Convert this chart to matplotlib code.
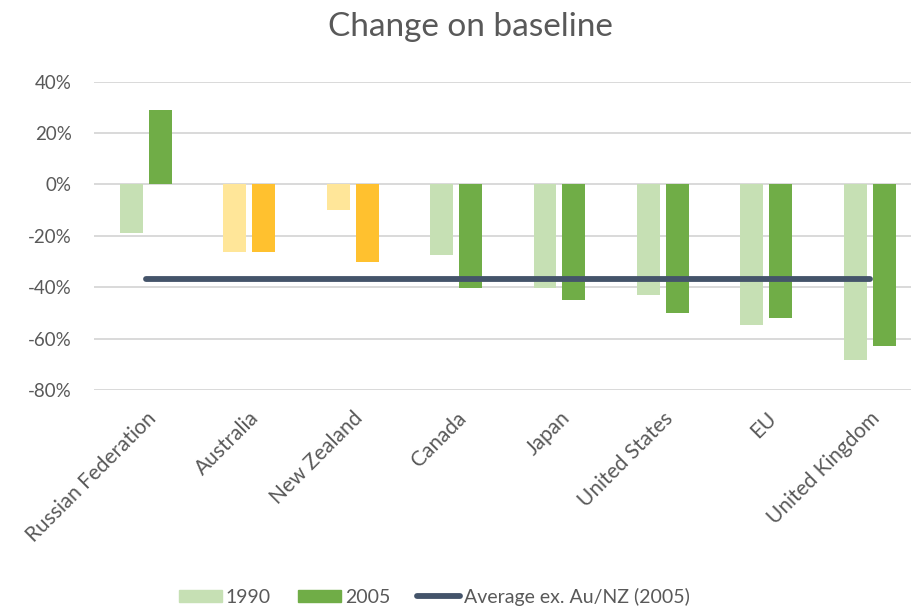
import matplotlib
matplotlib.use("Agg")
import matplotlib.pyplot as plt
import numpy as np
from matplotlib.patches import Patch
from matplotlib.lines import Line2D

plt.rcParams['font.family'] = ['Lato', 'DejaVu Sans']

categories = ["Russian Federation", "Australia", "New Zealand", "Canada",
              "Japan", "United States", "EU", "United Kingdom"]
change_1990 = [-19.0, -26.4, -9.8, -27.4, -40.4, -43.0, -54.8, -68.3]
change_2005 = [29.0, -26.4, -30.0, -40.4, -45.0, -50.2, -51.8, -62.9]
highlight = ["Australia", "New Zealand"]
y_ticks = [40, 20, 0, -20, -40, -60, -80]

green_light, green_dark = "#C6E0B4", "#70AD47"
gold_light, gold_dark = "#FFE699", "#FFC12F"
line_col = "#44546A"
text_col = "#595959"

fig = plt.figure(figsize=(9.11, 6.09), dpi=100)
ax = fig.add_axes([94 / 911, (609 - 390) / 609, (911 - 94) / 911, (390 - 81.7) / 609])

x = np.arange(len(categories))
off, w = 0.14, 0.222
c90 = [gold_light if c in highlight else green_light for c in categories]
c05 = [gold_dark if c in highlight else green_dark for c in categories]
ax.bar(x - off, change_1990, width=w, color=c90, zorder=2)
ax.bar(x + off, change_2005, width=w, color=c05, zorder=2)

# Average of 2005 values excluding Australia and New Zealand
avg = np.mean([v for c, v in zip(categories, change_2005) if c not in highlight])
ax.plot([x[0], x[-1]], [avg, avg], color=line_col, lw=4.2,
        solid_capstyle="round", zorder=3)

ax.set_xlim(-0.5, (911 - 146) / 103.4)
ax.set_ylim(-80, 40)
ax.set_yticks(y_ticks)
ax.set_yticklabels([f"{t}%" for t in y_ticks])
ax.yaxis.grid(True, color="#D9D9D9", lw=1.4, zorder=0)
ax.set_axisbelow(True)
for s in ax.spines.values():
    s.set_visible(False)
ax.tick_params(axis="y", length=0, pad=16, labelsize=13.5, labelcolor=text_col)
ax.tick_params(axis="x", length=0, pad=13, labelsize=15, labelcolor=text_col)
ax.set_xticks(x)
ax.set_xticklabels(categories, rotation=45, ha="right", rotation_mode="anchor")

fig.text(0.516, 0.956, "Change on baseline", ha="center", va="center",
         fontsize=24, color=text_col)

handles = [Patch(color=green_light, label="1990"),
           Patch(color=green_dark, label="2005"),
           Line2D([0], [0], color=line_col, lw=4.2, solid_capstyle="round",
                  label="Average ex. Au/NZ (2005)")]
leg = fig.legend(handles=handles, loc="center", bbox_to_anchor=(0.477, 0.02),
                 ncol=3, frameon=False, fontsize=14, handlelength=2.2,
                 handleheight=0.6, handletextpad=0.2, columnspacing=1.4)
for t in leg.get_texts():
    t.set_color(text_col)

fig.savefig("out.png", dpi=100)
